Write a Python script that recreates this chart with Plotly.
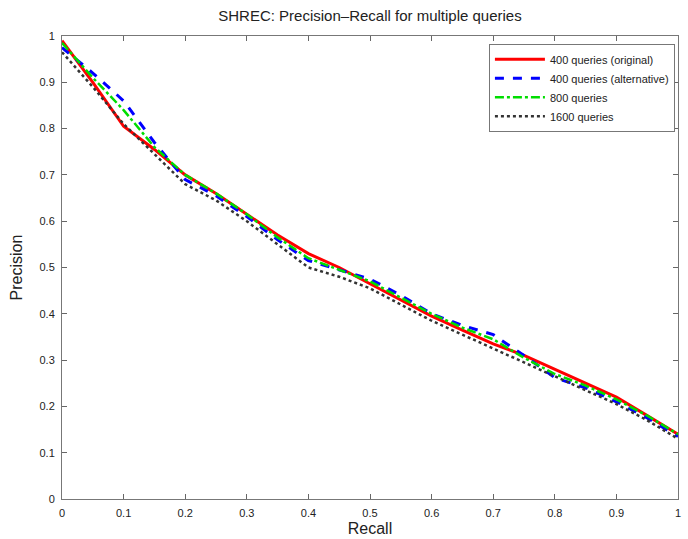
import plotly.graph_objects as go

recall = [0.0, 0.05, 0.1, 0.15, 0.2, 0.25, 0.3, 0.35, 0.4, 0.45, 0.5,
          0.55, 0.6, 0.65, 0.7, 0.75, 0.8, 0.85, 0.9, 0.95, 1.0]

p400_orig = [0.99, 0.90, 0.805, 0.755, 0.70, 0.66, 0.615, 0.57, 0.53, 0.50, 0.465,
             0.43, 0.395, 0.365, 0.335, 0.31, 0.28, 0.25, 0.22, 0.18, 0.14]
p400_alt = [0.975, 0.92, 0.86, 0.77, 0.69, 0.655, 0.61, 0.56, 0.515, 0.495, 0.475,
            0.44, 0.40, 0.375, 0.355, 0.31, 0.262, 0.24, 0.21, 0.175, 0.135]
p800 = [0.985, 0.91, 0.84, 0.76, 0.70, 0.66, 0.615, 0.565, 0.52, 0.495, 0.47,
        0.435, 0.40, 0.37, 0.345, 0.305, 0.27, 0.245, 0.215, 0.18, 0.14]
p1600 = [0.965, 0.89, 0.81, 0.745, 0.68, 0.645, 0.60, 0.55, 0.50, 0.48, 0.455,
         0.42, 0.385, 0.355, 0.325, 0.295, 0.265, 0.235, 0.205, 0.17, 0.13]

names = ["400 queries (original)", "400 queries (alternative)", "800 queries", "1600 queries"]

tick_vals = [0, 0.1, 0.2, 0.3, 0.4, 0.5, 0.6, 0.7, 0.8, 0.9, 1]
tick_text = ["0", "0.1", "0.2", "0.3", "0.4", "0.5", "0.6", "0.7", "0.8", "0.9", "1"]

FONT = "Liberation Sans, Arial, sans-serif"

fig = go.Figure()
fig.add_trace(go.Scatter(x=recall, y=p400_orig, mode="lines", name=names[0],
                         line=dict(color="#ff0000", width=3)))
fig.add_trace(go.Scatter(x=recall, y=p400_alt, mode="lines", name=names[1],
                         line=dict(color="#0000ff", width=3, dash="dash")))
fig.add_trace(go.Scatter(x=recall, y=p800, mode="lines", name=names[2],
                         line=dict(color="#00dd00", width=2.5, dash="dashdot")))
fig.add_trace(go.Scatter(x=recall, y=p1600, mode="lines", name=names[3],
                         line=dict(color="#333333", width=2.5, dash="dot")))

axis_common = dict(
    range=[0, 1], tickvals=tick_vals, ticktext=tick_text,
    ticks="inside", ticklen=5, tickcolor="#666666", mirror="ticks",
    showline=True, linecolor="#777777", linewidth=1, showgrid=False, zeroline=False,
    tickfont=dict(family=FONT, size=11, color="#222222"),
    ticklabelstandoff=4, automargin=False,
)

fig.update_layout(
    width=688, height=539,
    margin=dict(l=62, r=10, t=36, b=40),
    paper_bgcolor="white", plot_bgcolor="white",
    title=dict(text="SHREC: Precision\u2013Recall for multiple queries",
               x=(62 + 308) / 688, xanchor="center", y=1 - 16 / 539, yanchor="middle",
               font=dict(family=FONT, size=15, color="#222222")),
    xaxis=dict(axis_common, title=dict(text="Recall", standoff=4,
               font=dict(family=FONT, size=16, color="#222222"))),
    yaxis=dict(axis_common, title=dict(text="Precision", standoff=12,
               font=dict(family=FONT, size=16, color="#222222"))),
    legend=dict(x=0.995, xanchor="right", y=0.983, yanchor="top",
                bordercolor="#777777", borderwidth=1, bgcolor="white",
                font=dict(family=FONT, size=11, color="#222222"),
                tracegroupgap=0, itemwidth=50),
    showlegend=True,
)

fig.write_html("out.html")
